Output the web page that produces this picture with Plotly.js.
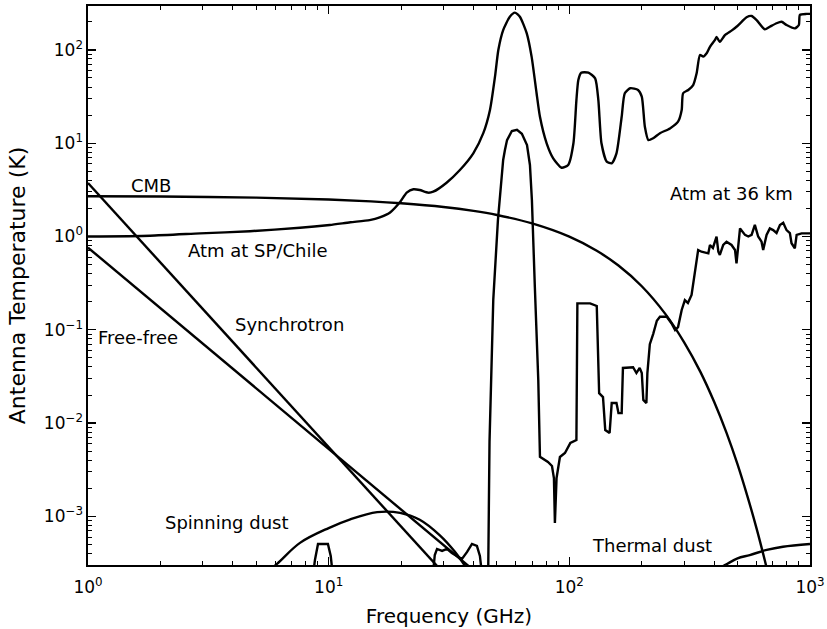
<!DOCTYPE html>
<html>
<head>
<meta charset="utf-8">
<script src="https://cdn.plot.ly/plotly-3.0.1.min.js"></script>
<style>html,body{margin:0;padding:0;background:#fff;}#chart{width:827px;height:629px;}</style>
</head>
<body>
<div id="chart"></div>
<script>
// ---- Data (frequency in GHz, antenna temperature in K) ----
const cmbFreq = [1, 2, 5, 10, 15, 20, 30, 40, 50, 70, 100, 130, 160, 200, 250, 300, 350, 400, 450, 500, 550, 600, 650, 700];
const cmbTemp = [2.70, 2.68, 2.61, 2.49, 2.38, 2.27, 2.07, 1.88, 1.70, 1.38, 0.996, 0.703, 0.488, 0.293, 0.149, 0.0734, 0.0356, 0.0168, 0.00785, 0.00361, 0.00163, 0.00074, 0.000332, 0.000149];

const syncFreq = [1, 3, 10, 30];
const syncTemp = [3.74, 0.167, 5.53e-3, 2.47e-4];

const ffFreq = [1, 3, 10, 30, 40];
const ffTemp = [0.76, 0.0709, 5.26e-3, 4.9e-4, 2.65e-4];

const spinFreq = [5, 6.1, 7.6, 10, 12.3, 15.9, 19.8, 23.9, 28.9, 33.4, 36.7, 42];
const spinTemp = [2.0e-4, 3.1e-4, 5.2e-4, 7.5e-4, 9.3e-4, 1.11e-3, 1.09e-3, 9.2e-4, 6.3e-4, 4.2e-4, 3.0e-4, 1.8e-4];

const tdustFreq = [384, 443, 500, 562, 661, 772, 1000];
const tdustTemp = [2.5e-4, 3.0e-4, 3.55e-4, 3.85e-4, 4.37e-4, 4.73e-4, 5.06e-4];

const atmSPFreq = [1.00,1.81,2.92,4.71,7.60,10.1,12.3,14.8,16.3,18.0,19.8,21.1,22.5,23.9,25.9,27.2,30.9,35.1,39.9,43.9,46.8,49.1,50.7,53.1,56.6,59.4,62.3,66.5,69.7,73.1,75.5,80.5,85.7,92.9,98.9,104,107,109,112,120,128,132,136,143,150,157,165,170,179,193,200,206,213,223,238,262,283,293,297,312,327,338,349,360,372,384,403,409,422,443,472,495,520,545,572,600,649,681,726,762,799,865,899,908,968,1000];
const atmSPTemp = [1.00,1.02,1.08,1.14,1.24,1.33,1.42,1.50,1.60,1.81,2.34,2.95,3.21,3.15,2.95,3.02,3.77,5.16,7.79,12.8,22.7,51.6,99.8,163,227,251,227,151,84.6,34.3,19.2,9.98,6.89,5.46,5.84,9.98,29.0,47.6,57.0,57.0,49.6,29.0,9.98,6.34,6.09,7.79,19.2,34.3,38.8,37.2,31.5,15.0,10.8,11.3,12.8,14.4,17.0,22.7,34.3,37.2,42.0,56.1,88.2,84.6,92.0,108,128,138,122,144,161,177,200,224,231,209,166,177,193,200,185,170,185,237,243,243];

const atm36Freq = [8.61,8.77,9.03,9.93,10.2,10.4,27.1,27.6,28.2,29.6,31.0,32.5,34.1,35.8,37.6,39.4,41.3,42.5,43.4,46.0,46.6,48.3,50.5,53.1,54.0,55.1,57.7,60.6,63.5,66.7,68.6,69.9,71.9,74.3,75.5,81.5,84.7,86.3,87.1,88.5,91.4,95.9,101,107,108,122,130,133,138,141,147,150,157,160,165,167,184,190,196,200,203,209,211,216,223,231,238,254,266,275,283,293,302,311,322,333,343,354,378,384,395,409,416,422,436,450,472,488,495,512,537,554,572,590,609,629,639,660,681,703,726,750,774,799,825,838,865,880,923,968,1000];
const atm36Temp = [2.35e-4,3.41e-4,5.06e-4,5.06e-4,3.77e-4,2.35e-4,2.35e-4,3.86e-4,4.48e-4,4.27e-4,4.48e-4,4.05e-4,3.77e-4,3.5e-4,4.16e-4,5.06e-4,4.82e-4,3.77e-4,2.35e-4,2.35e-4,6.32e-3,0.209,1.50,6.61,8.46,10.8,13.5,13.9,12.6,9.57,5.84,2.46,0.287,0.029,4.36e-3,3.83e-3,3.47e-3,2.58e-3,8.5e-4,2.58e-3,4.33e-3,4.78e-3,6.12e-3,6.59e-3,0.192,0.192,0.18,0.0209,0.019,8.43e-3,7.83e-3,0.0164,0.0164,0.0128,0.0128,0.039,0.0397,0.0344,0.039,0.0344,0.0177,0.0164,0.0344,0.07,0.09,0.125,0.138,0.138,0.117,0.0995,0.107,0.163,0.208,0.194,0.236,0.437,0.716,0.687,0.66,0.811,0.753,0.995,0.687,0.634,0.811,0.88,0.811,0.717,0.516,1.22,1.04,1.0,1.04,1.33,1.0,0.88,0.717,1.04,1.22,1.17,1.09,1.33,1.40,1.17,1.09,0.846,0.748,1.04,1.08,1.08,1.08];

// ---- Tick labels ----
const xTickVals = [1, 10, 100, 1000];
const xTickText = ['10<sup>0</sup>', '10<sup>1</sup>', '10<sup>2</sup>', '10<sup>3</sup>'];
const yTickVals = [0.001, 0.01, 0.1, 1, 10, 100];
const yTickText = ['10<sup>\u22123</sup>', '10<sup>\u22122</sup>', '10<sup>\u22121</sup>', '10<sup>0</sup>', '10<sup>1</sup>', '10<sup>2</sup>'];
const minorMultipliers = [2, 3, 4, 5, 6, 7, 8, 9];
const xDecades = [1, 10, 100];
const yDecades = [0.0001, 0.001, 0.01, 0.1, 1, 10, 100];

// ---- Curve labels ----
const labelText = ['CMB', 'Atm at SP/Chile', 'Synchrotron', 'Free-free', 'Spinning dust', 'Thermal dust', 'Atm at 36 km'];
const labelX = [0.0873, 0.2355, 0.2791, 0.0699, 0.1925, 0.7805, 0.8906];
const labelY = [0.6789, 0.5635, 0.4302, 0.407, 0.076, 0.0349, 0.6646];

const xMinor = [];
xDecades.forEach(d => minorMultipliers.forEach(m => xMinor.push(d * m)));
const yMinor = [];
yDecades.forEach(d => minorMultipliers.forEach(m => yMinor.push(d * m)));

const lineStyle = {color: 'black', width: 2.4};
function tr(x, y, shape) {
  return {x: x, y: y, type: 'scatter', mode: 'lines', line: Object.assign({shape: shape || 'linear'}, lineStyle), hoverinfo: 'skip'};
}

const traces = [
  tr(cmbFreq, cmbTemp, 'spline'),
  tr(syncFreq, syncTemp),
  tr(ffFreq, ffTemp),
  tr(spinFreq, spinTemp, 'spline'),
  tr(tdustFreq, tdustTemp, 'spline'),
  tr(atmSPFreq, atmSPTemp, 'spline'),
  tr(atm36Freq, atm36Temp)
];
traces[5].line.smoothing = 0.6;

const axisCommon = {
  type: 'log',
  tickmode: 'array',
  ticks: 'inside', ticklen: 8, tickwidth: 1.2, tickcolor: 'black',
  showline: true, linecolor: 'black', linewidth: 1.6, mirror: 'allticks',
  showgrid: false, zeroline: false,
  tickfont: {size: 17, color: 'black', family: 'DejaVu Sans'}
};

const layout = {
  width: 827, height: 629,
  margin: {l: 88, r: 17, t: 6, b: 64, pad: 0},
  paper_bgcolor: 'white', plot_bgcolor: 'white',
  font: {family: 'DejaVu Sans', color: 'black', size: 17},
  showlegend: false,
  xaxis: Object.assign({}, axisCommon, {
    range: [0, 3],
    tickvals: xTickVals, ticktext: xTickText,
    ticklabelstandoff: 6,
    minor: {tickmode: 'array', tickvals: xMinor, ticks: 'inside', ticklen: 4, tickwidth: 1, tickcolor: 'black', showgrid: false},
    title: {text: 'Frequency (GHz)', font: {size: 20, family: 'DejaVu Sans', color: 'black'}, standoff: 13}
  }),
  yaxis: Object.assign({}, axisCommon, {
    range: [-3.521, 2.4705],
    tickvals: yTickVals, ticktext: yTickText,
    minor: {tickmode: 'array', tickvals: yMinor, ticks: 'inside', ticklen: 4, tickwidth: 1, tickcolor: 'black', showgrid: false},
    title: {text: 'Antenna Temperature (K)', font: {size: 22, family: 'DejaVu Sans', color: 'black'}, standoff: 12}
  }),
  annotations: labelText.map((t, i) => ({
    text: t, x: labelX[i], y: labelY[i], xref: 'paper', yref: 'paper',
    xanchor: 'center', yanchor: 'middle', showarrow: false,
    font: {size: 18, family: 'DejaVu Sans', color: 'black'}
  }))
};

Plotly.newPlot('chart', traces, layout, {displayModeBar: false, staticPlot: true});
</script>
</body>
</html>
